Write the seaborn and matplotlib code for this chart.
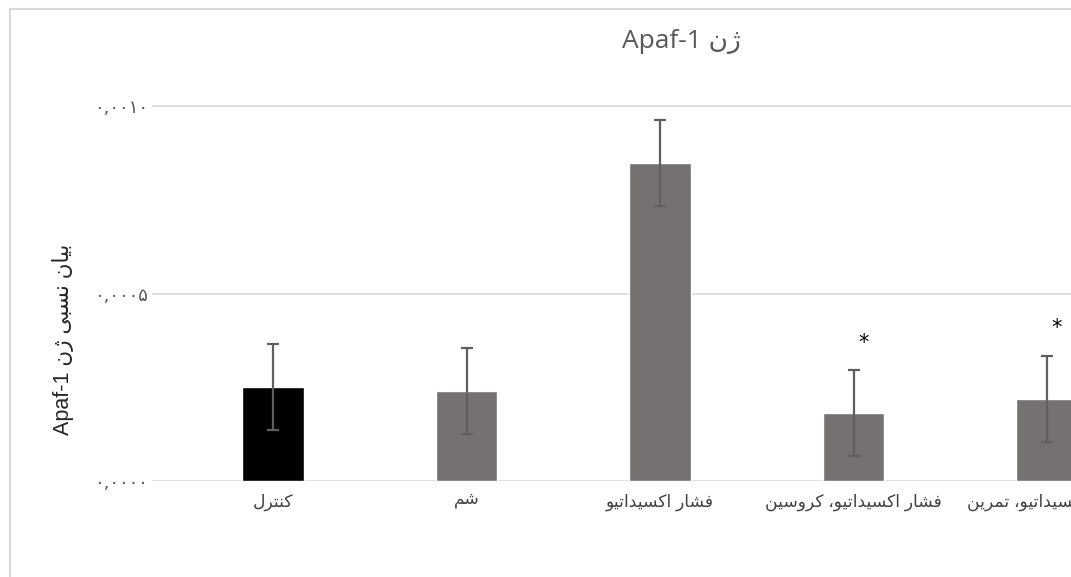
import matplotlib
matplotlib.use("Agg")
import matplotlib.pyplot as plt
from matplotlib.patches import Rectangle
import seaborn as sns

# data
categories = ["کنترل", "شم", "فشار اکسیداتیو", "فشار اکسیداتیو، کروسین", "فشار اکسیداتیو، تمرین"]
values = [0.000251, 0.000240, 0.000849, 0.000181, 0.000219]
errors = [0.000115, 0.000115, 0.000115, 0.000114, 0.000115]
stars = ["", "", "", "*", "*"]
bar_colors = ["#000000", "#767171", "#767171", "#767171", "#767171"]
y_ticks = [0.0, 0.0005, 0.0010]
y_tick_labels = ["۰,۰۰۰۰", "۰,۰۰۰۵", "۰,۰۰۱۰"]
title = "ژن Apaf-1"
y_label = "بیان نسبی ژن Apaf-1"

# matplotlib does no Arabic shaping, so pick the contextual forms by hand
DUAL = {
	"ب": "\ufe8f\ufe90\ufe91\ufe92", "ت": "\ufe95\ufe96\ufe97\ufe98",
	"س": "\ufeb1\ufeb2\ufeb3\ufeb4", "ش": "\ufeb5\ufeb6\ufeb7\ufeb8",
	"ف": "\ufed1\ufed2\ufed3\ufed4", "ل": "\ufedd\ufede\ufedf\ufee0",
	"م": "\ufee1\ufee2\ufee3\ufee4", "ن": "\ufee5\ufee6\ufee7\ufee8",
	"ک": "\ufb8e\ufb8f\ufb90\ufb91", "ی": "\ufbfc\ufbfd\ufbfe\ufbff",
}
RIGHT = {
	"ا": "\ufe8d\ufe8e", "د": "\ufea9\ufeaa", "ر": "\ufead\ufeae",
	"ژ": "\ufb8a\ufb8b", "و": "\ufeed\ufeee",
}


def is_letter(ch):
	return ch in DUAL or ch in RIGHT


def shape(text):
	out = []
	for i, ch in enumerate(text):
		if not is_letter(ch):
			out.append(ch)
			continue
		prev = text[i - 1] if i > 0 else ""
		nxt = text[i + 1] if i + 1 < len(text) else ""
		join_prev = prev in DUAL
		join_next = ch in DUAL and is_letter(nxt)
		if ch in RIGHT:
			out.append(RIGHT[ch][1] if join_prev else RIGHT[ch][0])
		else:
			forms = DUAL[ch]
			if join_prev and join_next:
				out.append(forms[3])
			elif join_prev:
				out.append(forms[1])
			elif join_next:
				out.append(forms[2])
			else:
				out.append(forms[0])
	return "".join(out)


def rtl(text):
	words = shape(text).split(" ")
	fixed = []
	for w in words:
		if any(ord(c) > 0x600 for c in w):
			w = w[::-1]
		fixed.append(w)
	return " ".join(fixed[::-1])


sns.set_style("white")
plt.rcParams["font.family"] = ["Liberation Sans", "DejaVu Sans"]

W, H = 1071, 577
fig = plt.figure(figsize=(W / 100, H / 100), dpi=100)

# plot area: x=0 sits at 273px, one category = 193.5px, baseline at 481px
left_px, cat_px = 152, 193.5
x_lo = -(273 - left_px) / cat_px
x_hi = 4.6
ax = fig.add_axes([left_px / W, (H - 481) / H, (x_hi - x_lo) * cat_px / W, (481 - 80) / H])

sns.barplot(x=categories, y=values, palette=bar_colors, hue=categories, legend=False,
	width=0.32, errorbar=None, saturation=1, ax=ax)
ax.errorbar(range(len(values)), values, yerr=errors, fmt="none", ecolor="#5f5f5f",
	elinewidth=1.6, capsize=4, capthick=1.6, zorder=3)

for i, s in enumerate(stars):
	if s:
		ax.annotate(s, xy=(i, values[i] + errors[i]), xytext=(7, 20), textcoords="offset points",
			ha="center", va="center", fontsize=15, color="black", family="DejaVu Sans")

ax.set_xlim(x_lo, x_hi)
ax.set_ylim(0, 0.00107)
ax.set_yticks(y_ticks)
ax.set_yticklabels(y_tick_labels, fontsize=13, color="#595959", family=["DejaVu Sans"])
ax.set_xticks(range(len(categories)))
ax.set_xticklabels([rtl(c) for c in categories], fontsize=12.3, color="#404040")
ax.tick_params(axis="both", length=0)
ax.tick_params(axis="x", pad=9)
ax.tick_params(axis="y", pad=3)
ax.set_xlabel("")
ax.set_ylabel("")
for sp in ax.spines.values():
	sp.set_visible(False)
ax.yaxis.grid(True, color="#d9d9d9", linewidth=1.2)
ax.set_axisbelow(True)

fig.text(681 / W, 1 - 42 / H, rtl(title), ha="center", va="center", fontsize=19,
	color="#595959", family=["Open Sans", "DejaVu Sans"])
fig.text(63 / W, 1 - 339 / H, rtl(y_label), ha="center", va="center", rotation=90,
	fontsize=15.5, color="#262626")

fig.patches.append(Rectangle((9.5 / W, -0.1), 1.2, 1.1 - 8.5 / H, transform=fig.transFigure,
	fill=False, edgecolor="#d9d9d9", linewidth=1.5))

fig.savefig("out.png", dpi=100)
